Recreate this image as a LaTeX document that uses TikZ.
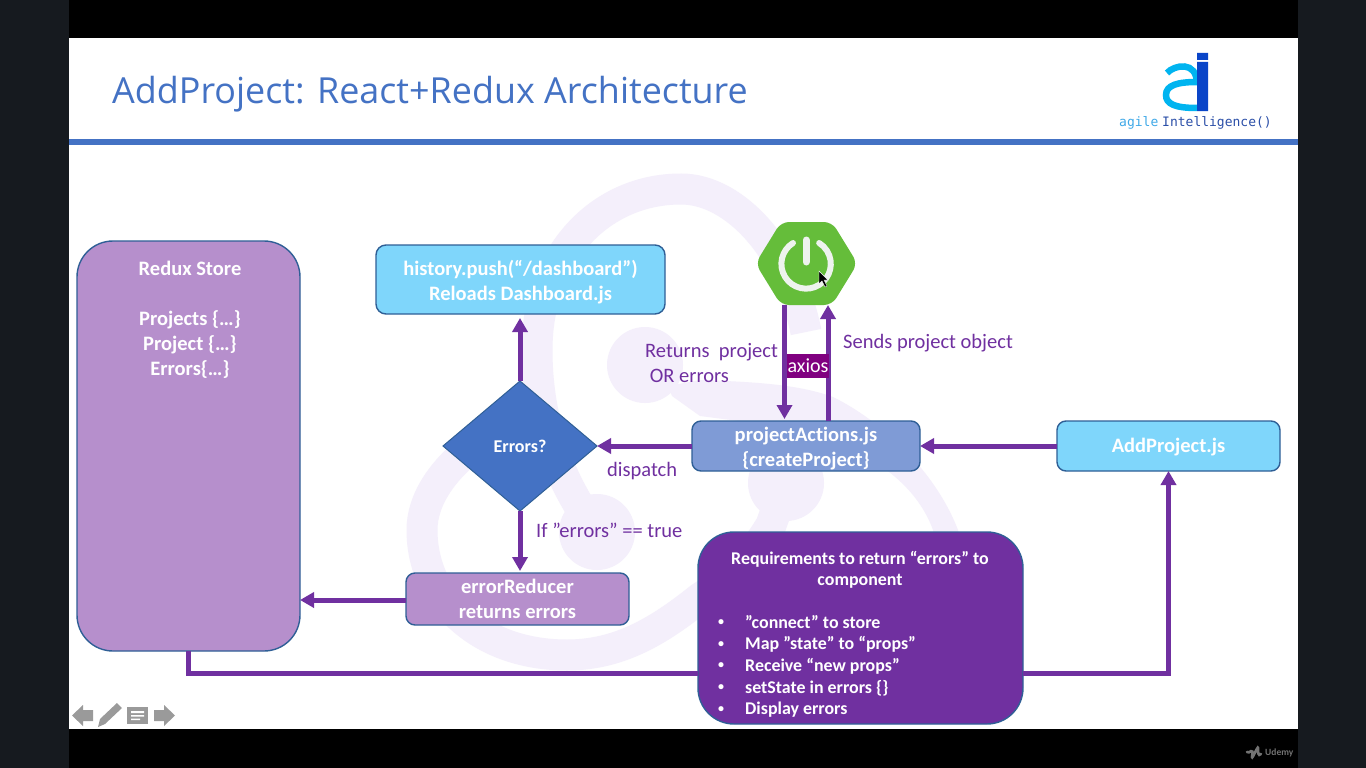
\documentclass[tikz,border=0pt]{standalone}
\usepackage{fontspec}
\setmainfont[Ligatures=NoCommon]{Carlito}
\newfontfamily\titlefont{Open Sans}
\newfontfamily\logofont{DejaVu Sans Mono}
\usetikzlibrary{arrows.meta,shapes.geometric}
\definecolor{pflow}{HTML}{7030A0}
\definecolor{pfill}{HTML}{B68FCC}
\definecolor{sky}{HTML}{7FD6FB}
\definecolor{steel}{HTML}{7F9BD6}
\definecolor{edge}{HTML}{2F5F96}
\definecolor{slideblue}{HTML}{4472C4}
\definecolor{lav}{HTML}{F4EFFB}
\definecolor{side}{HTML}{161A1F}
\definecolor{icon}{HTML}{9A9A9A}
\definecolor{springgreen}{HTML}{65BD3A}
\definecolor{powerwhite}{HTML}{EEF3EE}
\definecolor{logocyan}{HTML}{00B4F0}
\definecolor{logoblue}{HTML}{0A45C8}
\definecolor{logotextA}{HTML}{3FA9E8}
\definecolor{logotextB}{HTML}{2B4FA8}
\definecolor{axiosfill}{HTML}{800080}
\newcommand\downtxt{\rule{0pt}{19.5pt}}
\tikzset{
  box/.style={draw=edge,line width=1.4pt,inner sep=0pt,outer sep=0pt,text=white,align=center,font=\fontsize{20.5}{25}\selectfont\bfseries},
  flow/.style={draw=pflow,line width=5pt,-{Triangle[length=14pt,width=15pt]}},
  plainflow/.style={draw=pflow,line width=5pt},
  lbl/.style={text=pflow,inner sep=0pt,font=\fontsize{20.5}{25}\selectfont,align=left},
  band/.style={draw=lav,line width=31pt,line cap=butt},
  dot/.style={fill=lav},
  wtext/.style={text=white,inner sep=0pt,align=center,font=\fontsize{20.5}{25}\selectfont\bfseries},
}
\begin{document}
\begin{tikzpicture}[x=1pt,y=-1pt]
\useasboundingbox (0,0) rectangle (1366,768);
% screen frame
\fill[side] (0,0) rectangle (1366,768);
\fill[black] (69,0) rectangle (1298,768);
\fill[white] (69,38) rectangle (1298,729);
% background redux logo
\draw[band] (597,532) .. controls (565,490) and (537,430) .. (537,350) .. controls (537,255) and (600,189) .. (681,189) .. controls (735,189) and (790,250) .. (806,332);
\draw[band] (786,483) -- (771,525) .. controls (750,560) and (725,582) .. (700,598) .. controls (660,630) and (620,655) .. (567,655) .. controls (480,655) and (422,600) .. (422,530) .. controls (422,500) and (442,470) .. (475,445);
\fill[lav] (668,386) -- (700,380) .. controls (760,382) and (800,385) .. (833,397) .. controls (880,420) and (935,470) .. (958,530) .. controls (965,560) and (965,590) .. (955,620) -- (925,620) .. controls (935,590) and (938,560) .. (933,530) .. controls (915,480) and (860,440) .. (770,425) -- (700,416) -- (672,396) -- cycle;
\fill[dot] (645,365) circle[radius=38];
\fill[dot] (597,532) circle[radius=38];
\fill[dot] (786,483) circle[radius=38];
% title and rule
\node[inner sep=0pt,anchor=base west,text=slideblue,font=\titlefont\fontsize{35.9}{38}\selectfont] (title) at (112,103.5) {AddProject: React+Redux Architecture};
\fill[slideblue] (69,139) rectangle (1298,145);
% company logo
\draw[line width=6.5pt,draw=logocyan] (1167,73) .. controls (1174,65) and (1197,60) .. (1197,84);
\draw[line width=6.5pt,draw=logocyan] (1197,82) .. controls (1178,82) and (1166,85) .. (1166,95) .. controls (1166,104) and (1175,108) .. (1197,108);
\fill[logoblue] (1197,53) rectangle (1208,60) (1197,62) rectangle (1208,111);
\node[inner sep=0pt,anchor=base west,text=logotextA,font=\logofont\fontsize{13}{14}\selectfont] (lgA) at (1119,126) {agile};
\node[inner sep=0pt,anchor=base west,text=logotextB,font=\logofont\fontsize{13}{14}\selectfont] (lgB) at (1162,126) {Intelligence()};
% nodes
\node[box,fill=pfill,rounded corners=36pt,minimum width=223pt,minimum height=410pt] (store) at (188.5,446) {};
\node[wtext,anchor=north] (storetext) at (190,261) {Redux Store\\[25pt]Projects \{…\}\\Project \{…\}\\Errors\{…\}};
\node[box,fill=sky,rounded corners=10pt,minimum width=289pt,minimum height=69pt] (hist) at (520.5,279.5) {\downtxt history.push(“/dashboard”)\\Reloads Dashboard.js};
\node[diamond,aspect=1.18,draw=edge,line width=1pt,fill=slideblue,inner sep=0pt,outer sep=0pt,minimum width=154pt,minimum height=130pt,text=white,font=\fontsize{18}{20}\selectfont\bfseries] (dec) at (520,446) {Errors?};
\node[box,fill=steel,rounded corners=9pt,minimum width=228pt,minimum height=50pt] (proj) at (806,446) {\downtxt projectActions.js\\\{createProject\}};
\node[box,fill=sky,rounded corners=9pt,minimum width=223pt,minimum height=50pt] (add) at (1168.5,446) {\rule{0pt}{17pt}AddProject.js};
\node[box,fill=pfill,rounded corners=9pt,minimum width=223pt,minimum height=52pt] (err) at (517.5,599) {errorReducer\\returns errors};
\node[box,fill=pflow,rounded corners=36pt,minimum width=325pt,minimum height=192pt] (req) at (860.5,628) {};
\node[wtext,anchor=north,font=\fontsize{17.9}{21}\selectfont\bfseries] (reqhead) at (860,551) {Requirements to return “errors” to\\component};
\node[wtext,anchor=north west,align=left,font=\fontsize{12}{21.6}\selectfont\bfseries] (reqdots) at (718,619.5) {•\\•\\•\\•\\•};
\node[wtext,anchor=north west,align=left,font=\fontsize{17.9}{21.6}\selectfont\bfseries] (reqlist) at (745,615) {”connect” to store\\Map ”state” to “props”\\Receive “new props”\\setState in errors \{\}\\Display errors};
% spring hexagon
\node[minimum width=97pt,minimum height=83pt,inner sep=0pt,outer sep=0pt] (spring) at (806.5,263.5) {};
\fill[springgreen,rounded corners=8pt] (755.5,263.5) -- (781,222) -- (832,222) -- (857.5,263.5) -- (832,305) -- (781,305) -- cycle;
\draw[draw=powerwhite,line width=6pt,line cap=round] (793,243) arc[start angle=238,end angle=-58,radius=24.7];
\draw[draw=powerwhite,line width=7pt,line cap=round] (806,240) -- (806,262);
% arrows
\coordinate (xdown) at (784.5,0);
\coordinate (xup) at (828,0);
\coordinate (lane) at (0,673);
\draw[flow] (dec.north) -- ([yshift=-4pt]dec.north |- hist.south) ;
\draw[flow] (dec.south) -- ([yshift=2pt,xshift=0pt]dec.south |- err.north) ;
\draw[flow] (proj.west) -- (dec.east);
\draw[flow] (add.west) -- (proj.east);
\draw[flow] ([yshift=-1pt]err.west) -- ([yshift=-1pt]err.west -| store.east);
\draw[flow] (spring.south -| xdown) -- ([yshift=2pt]proj.north -| xdown);
\draw[flow] (proj.north -| xup) -- (spring.south -| xup);
\draw[plainflow] (store.south) |- (lane -| req.west);
\draw[flow] (lane -| req.east) -| (add.south);
% labels
\node[fill=axiosfill,text=white,inner sep=0pt,minimum width=42pt,minimum height=24pt,font=\fontsize{20}{22}\selectfont] (axios) at (808,365.5) {axios};
\node[lbl,anchor=base west] (ret) at (645,382) {Returns\ \ project\\\ OR errors};
\node[lbl,anchor=base west] (sends) at (843,348) {Sends project object};
\node[lbl,anchor=base west] (disp) at (607,476.5) {dispatch};
\node[lbl,anchor=base west] (iferr) at (536,537) {If ”errors” == true};
% cursor
\fill[black,draw=white,line width=.4pt] (819,271) -- (819,284) -- (822,281) -- (825,287) -- (827,286) -- (824,280) -- (828,280) -- cycle;
% slide navigation
\fill[icon] (72,715.5) -- (83,705) -- (83,710) -- (93,710) -- (93,721) -- (83,721) -- (83,726) -- cycle;
\fill[icon] (98,727) -- (100,719) -- (117,703) -- (122,708) -- (105,724) -- cycle;
\fill[icon] (127,707) rectangle (148,724);
\fill[white] (131,711) rectangle (144,713) (131,715) rectangle (144,716.5) (131,718.5) rectangle (140,720);
\fill[icon] (175,715.5) -- (164,705) -- (164,710) -- (154,710) -- (154,721) -- (164,721) -- (164,726) -- cycle;
% udemy mark
\draw[draw=black!55,line width=2.6pt,line cap=round] (1247,752) .. controls (1249,755) and (1254,745) .. (1252,757) .. controls (1252,760) and (1258,745) .. (1258,748) .. controls (1258,752) and (1258,757) .. (1261,754);
\node[inner sep=0pt,anchor=base west,text=black!55,font=\fontsize{9.5}{10}\selectfont\bfseries] (ude) at (1265,755) {Udemy};
\end{tikzpicture}
\end{document}
